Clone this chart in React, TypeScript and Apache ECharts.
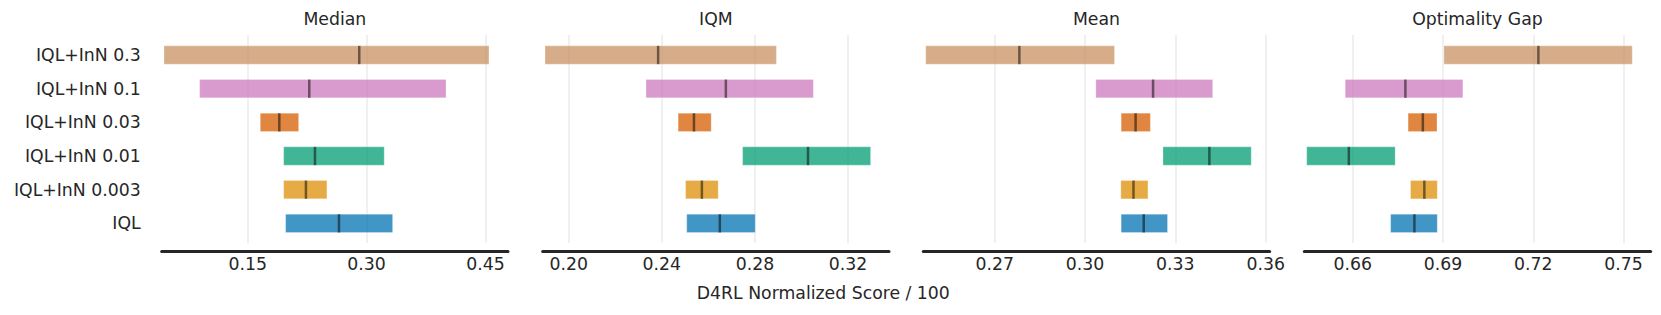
import React, { useEffect, useRef } from "react";
import * as echarts from "echarts";

const methods = ["IQL+InN 0.3", "IQL+InN 0.1", "IQL+InN 0.03", "IQL+InN 0.01", "IQL+InN 0.003", "IQL"];
const colors = ["#ca9161", "#cc78bc", "#d55e00", "#029e73", "#de8f05", "#0173b2"];
const metrics = ["Median", "IQM", "Mean", "Optimality Gap"];
const xLabel = "D4RL Normalized Score / 100";

// Median
const medianLower = [0.0444, 0.0894, 0.1659, 0.1954, 0.1954, 0.1979];
const medianPoint = [0.2908, 0.2277, 0.1899, 0.2349, 0.2235, 0.2652];
const medianUpper = [0.4545, 0.4003, 0.2143, 0.3223, 0.25, 0.3329];
// IQM
const iqmLower = [0.1898, 0.2332, 0.247, 0.2747, 0.2502, 0.2507];
const iqmPoint = [0.2384, 0.2675, 0.2538, 0.3028, 0.2572, 0.2649];
const iqmUpper = [0.2892, 0.3051, 0.2612, 0.3297, 0.2642, 0.2801];
// Mean
const meanLower = [0.2471, 0.3036, 0.312, 0.3259, 0.3119, 0.312];
const meanPoint = [0.2782, 0.3226, 0.3168, 0.3413, 0.3161, 0.3195];
const meanUpper = [0.3098, 0.3424, 0.3217, 0.3552, 0.3209, 0.3274];
// Optimality Gap
const gapLower = [0.6903, 0.6575, 0.6784, 0.6447, 0.6792, 0.6726];
const gapPoint = [0.7217, 0.6775, 0.6833, 0.6587, 0.6838, 0.6805];
const gapUpper = [0.7529, 0.6966, 0.688, 0.6741, 0.6881, 0.6881];

// tick labels and axis ranges
const medianTicks = [0.15, 0.3, 0.45];
const iqmTicks = [0.2, 0.24, 0.28, 0.32];
const meanTicks = [0.27, 0.3, 0.33, 0.36];
const gapTicks = [0.66, 0.69, 0.72, 0.75];
const axisMin = [0.0415, 0.1888, 0.2463, 0.6439];
const axisMax = [0.4785, 0.3376, 0.3613, 0.759];

const lowers = [medianLower, iqmLower, meanLower, gapLower];
const points = [medianPoint, iqmPoint, meanPoint, gapPoint];
const uppers = [medianUpper, iqmUpper, meanUpper, gapUpper];
const ticks = [medianTicks, iqmTicks, meanTicks, gapTicks];

const FONT = "DejaVu Sans";
const FS = 17.3;
const TEXT = "#262626";

export default function App() {
  const ref = useRef<HTMLDivElement>(null);
  useEffect(() => {
    if (!ref.current) return;
    const chart = echarts.init(ref.current, undefined, { renderer: "svg" });
    const lefts = [161.7, 542.7, 923.3, 1304.3];
    const width = 346.3;
    const grids: any[] = [];
    const xAxes: any[] = [];
    const yAxes: any[] = [];
    const series: any[] = [];
    const graphics: any[] = [];
    for (let i = 0; i < 4; i++) {
      // grid for gridlines + bottom axis
      grids.push({ left: lefts[i], width, top: 35, height: 208 });
      // grid for bars
      grids.push({ left: lefts[i], width, top: 38.2, height: 202 });
      xAxes.push({
        type: "value",
        gridIndex: 2 * i,
        min: axisMin[i],
        max: axisMax[i],
        offset: 7.8,
        axisLine: { show: true, onZero: false, lineStyle: { color: TEXT, width: 3 } },
        axisTick: { show: false, customValues: ticks[i] },
        axisLabel: {
          customValues: ticks[i],
          formatter: (v: number) => v.toFixed(2),
          fontFamily: FONT,
          fontSize: FS,
          color: TEXT,
          margin: 5,
        },
        splitLine: { show: true, lineStyle: { color: "#ebebeb", width: 1.5 } },
      });
      xAxes.push({
        type: "value",
        gridIndex: 2 * i + 1,
        min: axisMin[i],
        max: axisMax[i],
        show: false,
        splitLine: { show: false },
      });
      yAxes.push({ type: "value", gridIndex: 2 * i, show: false, splitLine: { show: false } });
      yAxes.push({
        type: "category",
        gridIndex: 2 * i + 1,
        data: methods,
        inverse: true,
        axisLine: { show: false },
        axisTick: { show: false },
        splitLine: { show: false },
        axisLabel: {
          show: i === 0,
          fontFamily: FONT,
          fontSize: FS,
          color: TEXT,
          margin: 21,
        },
      });
      const lo = lowers[i];
      const up = uppers[i];
      const pt = points[i];
      series.push({
        type: "custom",
        xAxisIndex: 2 * i + 1,
        yAxisIndex: 2 * i + 1,
        encode: { x: [1, 2, 3], y: 0 },
        data: methods.map((_, j) => [j, lo[j], up[j], pt[j]]),
        renderItem: (params: any, api: any) => {
          const j = api.value(0);
          const a = api.coord([api.value(1), j]);
          const b = api.coord([api.value(2), j]);
          const p = api.coord([api.value(3), j]);
          const band = api.size([0, 1])[1];
          const h = band * 0.545;
          return {
            type: "group",
            children: [
              {
                type: "rect",
                shape: { x: a[0], y: a[1] - h / 2, width: b[0] - a[0], height: h },
                style: { fill: colors[j], opacity: 0.75, stroke: "rgba(255,255,255,0.35)", lineWidth: 1 },
              },
              {
                type: "line",
                shape: { x1: p[0], y1: p[1] - h / 2, x2: p[0], y2: p[1] + h / 2 },
                style: { stroke: "rgba(0,0,0,0.5)", lineWidth: 2.5 },
              },
            ],
          };
        },
      });
      graphics.push({
        type: "text",
        x: lefts[i] + width / 2,
        y: 19,
        style: {
          text: metrics[i],
          font: `${FS}px "${FONT}"`,
          fill: TEXT,
          align: "center",
          verticalAlign: "middle",
        },
      });
    }
    graphics.push({
      type: "text",
      x: 823.3,
      y: 293.3,
      style: {
        text: xLabel,
        font: `${FS}px "${FONT}"`,
        fill: TEXT,
        align: "center",
        verticalAlign: "middle",
      },
    });
    chart.setOption({
      animation: false,
      backgroundColor: "#ffffff",
      grid: grids,
      xAxis: xAxes,
      yAxis: yAxes,
      series,
      graphic: graphics,
    });
    return () => chart.dispose();
  }, []);
  return (
    <div
      ref={ref}
      style={{ position: "fixed", left: 0, top: 0, width: 1661, height: 315 }}
    />
  );
}
